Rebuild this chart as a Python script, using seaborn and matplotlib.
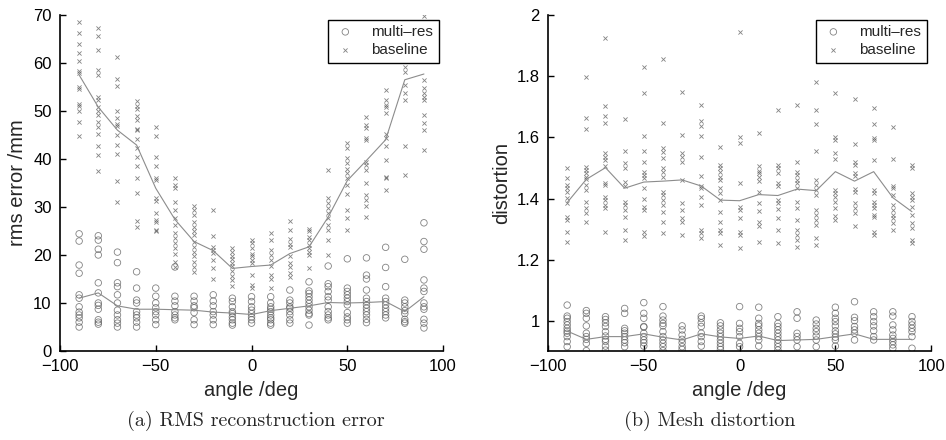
import pandas as pd
import seaborn as sns
import matplotlib.pyplot as plt
from matplotlib.ticker import FuncFormatter

ANGLES = [-90, -80, -70, -60, -50, -40, -30, -20, -10, 0, 10, 20, 30, 40, 50, 60, 70, 80, 90]

# (a) rms error /mm, one list of samples per angle
RMS_MULTI = [
    [24.4, 22.9, 17.9, 16.2, 11.7, 11.0, 9.2, 8.1, 7.5, 6.9, 6.0, 5.0],
    [24.0, 23.1, 21.2, 20.0, 14.2, 12.1, 10.0, 9.5, 8.7, 6.5, 6.0, 5.6],
    [20.6, 18.4, 14.2, 13.4, 11.7, 10.0, 8.5, 7.5, 6.5, 5.8, 5.0],
    [16.5, 13.1, 10.6, 10.0, 8.2, 7.5, 6.9, 6.0, 5.0],
    [13.1, 11.4, 10.0, 9.0, 8.2, 7.5, 6.5, 5.5],
    [17.5, 11.4, 10.4, 9.4, 8.2, 7.5, 6.9, 6.5],
    [11.4, 10.4, 9.4, 9.0, 8.0, 6.5, 5.5],
    [11.7, 10.4, 9.4, 8.2, 7.5, 6.5, 5.5],
    [11.0, 10.3, 9.2, 8.2, 7.8, 7.1, 6.5, 5.8, 5.4],
    [11.3, 10.3, 9.2, 8.5, 7.8, 7.1, 6.5, 5.8],
    [11.3, 10.0, 9.2, 8.7, 8.2, 7.5, 6.9, 6.5, 5.8, 5.4],
    [12.7, 10.6, 10.0, 9.2, 8.9, 8.2, 7.5, 6.5, 5.8],
    [14.4, 12.5, 12.0, 11.3, 10.6, 9.9, 9.2, 8.5, 7.8, 7.5, 5.4],
    [17.7, 14.0, 13.4, 12.4, 11.3, 10.6, 9.2, 8.2, 7.5, 6.9, 6.5],
    [19.2, 13.1, 12.4, 11.7, 11.0, 10.3, 9.6, 8.0, 7.1, 6.5, 5.8],
    [19.4, 15.8, 15.0, 12.7, 11.0, 10.3, 9.6, 8.9, 8.2, 7.5, 6.6, 5.9],
    [21.6, 17.4, 13.4, 11.0, 10.3, 9.6, 8.9, 8.2, 7.5, 6.9],
    [19.1, 10.6, 10.0, 9.2, 8.4, 7.8, 6.6, 6.1, 5.8],
    [26.7, 22.8, 21.2, 14.8, 13.1, 12.4, 10.0, 9.2, 8.7, 6.6, 5.8, 4.8],
]
RMS_BASE = [
    [68.6, 66.3, 63.9, 62.1, 60.5, 58.4, 58.0, 54.9, 54.6, 51.5, 51.0, 49.9, 47.6, 44.7],
    [67.2, 65.6, 62.6, 58.5, 57.5, 53.0, 52.3, 50.9, 49.9, 49.2, 47.8, 46.7, 45.3, 42.7, 40.8, 37.5],
    [61.3, 56.6, 55.2, 50.0, 48.5, 47.3, 46.9, 45.0, 42.9, 41.0, 35.5, 31.1],
    [52.0, 51.0, 50.5, 48.9, 48.2, 46.3, 46.0, 44.1, 42.2, 40.5, 38.5, 36.1, 33.0, 27.1, 25.9],
    [46.7, 44.7, 40.5, 38.5, 36.0, 35.6, 31.8, 31.2, 28.7, 27.3, 26.9, 25.2, 25.0],
    [36.0, 34.6, 34.0, 31.1, 29.4, 27.6, 26.3, 24.5, 23.5, 22.4, 21.4, 20.3, 18.6, 17.6],
    [30.1, 29.4, 28.3, 26.9, 25.9, 24.9, 24.2, 22.8, 21.7, 20.7, 19.7, 18.6, 17.6, 16.5],
    [29.4, 24.0, 21.6, 21.0, 20.5, 19.0, 17.2, 15.1],
    [21.4, 20.7, 19.7, 19.1, 18.3, 17.8, 16.6, 15.7, 14.7, 13.5],
    [23.1, 22.4, 21.4, 20.3, 19.7, 19.0, 18.3, 15.8, 13.8, 13.1],
    [24.5, 23.1, 21.0, 20.0, 19.0, 17.7, 15.8, 15.1, 13.1],
    [27.1, 25.1, 23.3, 22.3, 21.6, 19.7, 18.3, 17.4, 16.3, 15.5],
    [25.5, 24.9, 23.7, 23.1, 22.1, 21.4, 20.7, 20.0, 17.2],
    [37.7, 31.9, 30.8, 29.7, 28.7, 27.6, 26.3, 25.2, 23.1, 20.0],
    [43.3, 42.2, 40.1, 39.1, 38.0, 37.0, 36.0, 34.6, 32.8, 29.4, 27.6, 25.2],
    [48.8, 47.1, 46.4, 44.3, 44.0, 39.4, 38.8, 37.7, 34.9, 32.5, 31.5, 30.1, 28.0],
    [54.4, 52.3, 51.3, 50.9, 49.5, 45.3, 44.3, 42.6, 39.8, 36.3, 36.0, 33.5],
    [61.5, 59.2, 58.2, 55.5, 53.7, 52.3, 42.6, 36.7],
    [69.7, 56.5, 54.7, 53.7, 53.0, 52.3, 49.2, 47.4, 46.0, 41.9],
]
RMS_MULTI_LINE = [11.0, 12.1, 9.4, 8.7, 8.7, 8.6, 8.5, 8.1, 7.9, 7.6,
                  8.4, 8.9, 9.4, 10.1, 10.0, 10.1, 10.3, 8.2, 11.3]
RMS_BASE_LINE = [57.5, 50.8, 46.0, 42.9, 33.9, 27.4, 22.8, 20.9, 17.2, 17.6,
                 17.9, 20.3, 21.7, 27.9, 35.5, 39.7, 44.0, 56.5, 57.7]

# (b) distortion
DIST_MULTI = [
    [1.052, 1.016, 1.009, 0.998, 0.987, 0.976, 0.967, 0.96, 0.949, 0.933, 0.916],
    [1.034, 1.025, 1.009, 0.984, 0.96, 0.949, 0.94, 0.927, 0.903],
    [1.014, 1.005, 0.994, 0.982, 0.965, 0.951, 0.94, 0.933, 0.918, 0.905],
    [1.041, 1.025, 0.976, 0.968, 0.96, 0.949, 0.938, 0.929, 0.916],
    [1.06, 1.025, 1.009, 0.982, 0.98, 0.96, 0.949, 0.938, 0.929, 0.918],
    [1.047, 1.016, 1.003, 0.992, 0.984, 0.965, 0.949, 0.938, 0.927, 0.916, 0.903],
    [0.984, 0.971, 0.954, 0.94, 0.929, 0.916, 0.907],
    [1.016, 1.008, 0.994, 0.982, 0.96, 0.949, 0.933, 0.918],
    [0.994, 0.984, 0.971, 0.96, 0.949, 0.938, 0.927, 0.916, 0.907],
    [1.047, 0.992, 0.976, 0.965, 0.949, 0.927, 0.916],
    [1.045, 1.009, 0.992, 0.984, 0.971, 0.96, 0.949, 0.938, 0.918],
    [1.014, 0.992, 0.982, 0.971, 0.96, 0.949, 0.938, 0.927, 0.916, 0.905],
    [1.03, 1.009, 0.96, 0.949, 0.938, 0.916],
    [1.003, 0.99, 0.976, 0.965, 0.951, 0.938, 0.916],
    [1.045, 1.025, 1.009, 0.998, 0.984, 0.968, 0.958, 0.947, 0.938, 0.918],
    [1.063, 1.012, 1.001, 0.982, 0.971, 0.96, 0.938],
    [1.03, 1.014, 0.998, 0.984, 0.968, 0.949, 0.938],
    [1.03, 1.016, 0.987, 0.971, 0.954, 0.943, 0.933, 0.922, 0.911],
    [1.014, 0.998, 0.987, 0.976, 0.965, 0.949, 0.911],
]
DIST_BASE = [
    [1.499, 1.466, 1.444, 1.434, 1.423, 1.401, 1.385, 1.341, 1.33, 1.292, 1.259],
    [1.798, 1.662, 1.626, 1.504, 1.494, 1.483, 1.472, 1.463, 1.445, 1.428, 1.39, 1.37, 1.352, 1.325],
    [1.926, 1.703, 1.671, 1.646, 1.548, 1.537, 1.526, 1.505, 1.451, 1.445, 1.406, 1.395, 1.379, 1.368, 1.292],
    [1.66, 1.557, 1.515, 1.5, 1.455, 1.44, 1.39, 1.379, 1.363, 1.341, 1.297, 1.265],
    [1.831, 1.746, 1.605, 1.557, 1.52, 1.486, 1.477, 1.466, 1.434, 1.397, 1.373, 1.363, 1.292, 1.278],
    [1.855, 1.646, 1.564, 1.553, 1.531, 1.499, 1.488, 1.472, 1.423, 1.412, 1.395, 1.379, 1.357, 1.325, 1.287],
    [1.748, 1.608, 1.548, 1.537, 1.52, 1.461, 1.385, 1.363, 1.336, 1.325, 1.281],
    [1.705, 1.652, 1.638, 1.603, 1.535, 1.474, 1.44, 1.434, 1.406, 1.379, 1.297, 1.287, 1.27],
    [1.57, 1.51, 1.499, 1.488, 1.472, 1.461, 1.434, 1.417, 1.395, 1.357, 1.325, 1.297, 1.287, 1.249],
    [1.945, 1.602, 1.581, 1.45, 1.373, 1.363, 1.336, 1.292, 1.281, 1.238],
    [1.613, 1.507, 1.49, 1.483, 1.472, 1.456, 1.42, 1.387, 1.36, 1.322, 1.312, 1.259],
    [1.69, 1.51, 1.499, 1.483, 1.45, 1.44, 1.396, 1.385, 1.367, 1.335, 1.297, 1.254],
    [1.706, 1.521, 1.488, 1.477, 1.461, 1.45, 1.434, 1.39, 1.368, 1.33, 1.297, 1.281, 1.265, 1.243],
    [1.782, 1.688, 1.644, 1.556, 1.461, 1.445, 1.428, 1.412, 1.363, 1.346, 1.33, 1.314, 1.27, 1.249],
    [1.744, 1.602, 1.591, 1.548, 1.528, 1.428, 1.417, 1.406, 1.39, 1.368, 1.343, 1.33],
    [1.724, 1.578, 1.521, 1.51, 1.483, 1.475, 1.43, 1.423, 1.387, 1.37, 1.352, 1.311],
    [1.697, 1.644, 1.597, 1.591, 1.525, 1.428, 1.417, 1.39, 1.379, 1.368, 1.346, 1.34, 1.292, 1.281],
    [1.633, 1.53, 1.44, 1.434, 1.412, 1.379, 1.363, 1.346, 1.336, 1.32, 1.297],
    [1.51, 1.501, 1.418, 1.406, 1.395, 1.371, 1.346, 1.32, 1.303, 1.265, 1.254],
]
DIST_MULTI_LINE = [0.967, 0.94, 0.949, 0.949, 0.958, 0.947, 0.938, 0.958, 0.948, 0.943,
                   0.951, 0.936, 0.938, 0.94, 0.949, 0.958, 0.94, 0.94, 0.94]
DIST_BASE_LINE = [1.387, 1.463, 1.501, 1.434, 1.454, 1.457, 1.461, 1.441, 1.395, 1.393,
                  1.413, 1.41, 1.431, 1.426, 1.488, 1.457, 1.488, 1.403, 1.357]


def long_table(samples):
    rows = []
    for a, vals in zip(ANGLES, samples):
        for v in vals:
            rows.append({"angle": a, "value": v})
    return pd.DataFrame(rows)


def draw_panel(ax, multi, base, multi_line, base_line, ylim, yticks, ylabel):
    sns.scatterplot(data=long_table(multi), x="angle", y="value", ax=ax,
                    marker="o", s=22, facecolor="none", edgecolor="0.35",
                    linewidth=0.6, alpha=0.75, label="multi\u2013res")
    sns.scatterplot(data=long_table(base), x="angle", y="value", ax=ax,
                    marker="x", s=9, color="0.35", linewidth=0.6,
                    alpha=0.75, label="baseline")
    lines = pd.DataFrame({"angle": ANGLES, "multi": multi_line, "base": base_line})
    sns.lineplot(data=lines, x="angle", y="multi", ax=ax, color="0.55", lw=0.8)
    sns.lineplot(data=lines, x="angle", y="base", ax=ax, color="0.55", lw=0.8)

    ax.set_xlim(-100, 100)
    ax.set_ylim(*ylim)
    ax.set_xticks([-100, -50, 0, 50, 100])
    ax.set_yticks(yticks)
    ax.yaxis.set_major_formatter(FuncFormatter(lambda v, p: f"{v:g}"))
    ax.tick_params(direction="in", length=4, width=1, labelsize=12, pad=6,
                   color="black", labelcolor="black")
    for side in ["top", "right"]:
        ax.spines[side].set_visible(False)
    for side in ["left", "bottom"]:
        ax.spines[side].set_linewidth(1.2)
        ax.spines[side].set_color("black")
    ax.set_xlabel("angle /deg", fontsize=14.5, labelpad=5)
    ax.set_ylabel(ylabel, fontsize=14.5, labelpad=4)

    leg = ax.legend(loc="upper right", fontsize=11, frameon=True, fancybox=False,
                    framealpha=1, edgecolor="black", borderaxespad=0.3,
                    handletextpad=0.9, handlelength=1.6, borderpad=0.35,
                    labelspacing=0.3, markerscale=1.0)
    leg.get_frame().set_linewidth(1.0)


sns.set_theme(style="ticks")
plt.rcParams["font.family"] = ["Liberation Sans", "DejaVu Sans"]

fig = plt.figure(figsize=(9.46, 4.4), dpi=100)
ax1 = fig.add_axes([0.0634, 0.2023, 0.405, 0.7637])
ax2 = fig.add_axes([0.5793, 0.2023, 0.405, 0.7637])

draw_panel(ax1, RMS_MULTI, RMS_BASE, RMS_MULTI_LINE, RMS_BASE_LINE,
           (0, 70), [0, 10, 20, 30, 40, 50, 60, 70], "rms error /mm")
draw_panel(ax2, DIST_MULTI, DIST_BASE, DIST_MULTI_LINE, DIST_BASE_LINE,
           (0.902, 2.0), [1.0, 1.2, 1.4, 1.6, 1.8, 2.0], "distortion")

fig.text(0.27, 0.043, "(a) RMS reconstruction error", family="cmr10",
         fontsize=14.5, ha="center", va="center")
fig.text(0.75, 0.043, "(b) Mesh distortion", family="cmr10",
         fontsize=14.5, ha="center", va="center")

fig.savefig("out.png", dpi=100, facecolor="white")
